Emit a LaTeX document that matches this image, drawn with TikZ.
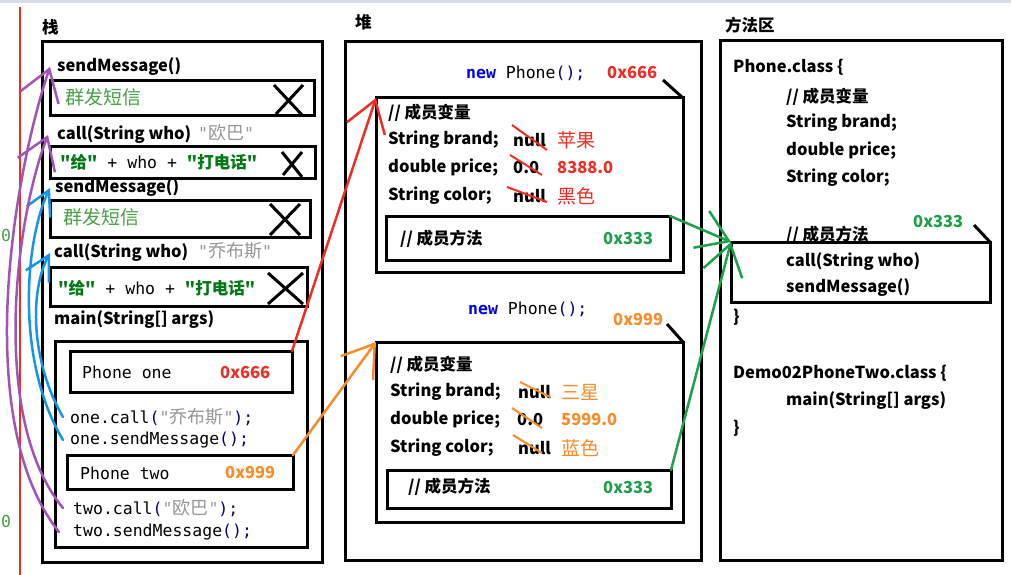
\documentclass[tikz,border=0pt]{standalone}
\usepackage{fontspec}
\usepackage{xcolor}
\usetikzlibrary{arrows.meta}
\newfontfamily\cjk{Noto Sans CJK SC}
\newfontfamily\mono{DejaVu Sans Mono}
\definecolor{myred}{RGB}{238,45,36}
\definecolor{myorange}{RGB}{247,140,40}
\definecolor{mygreen}{RGB}{30,160,75}
\definecolor{dkgreen}{RGB}{0,120,20}
\definecolor{ltgreen}{RGB}{70,160,70}
\definecolor{myblue}{RGB}{20,150,230}
\definecolor{mypurple}{RGB}{160,85,180}
\definecolor{kwblue}{RGB}{0,0,230}
\definecolor{pnavy}{RGB}{0,0,120}
\definecolor{strgray}{RGB}{150,150,150}
\definecolor{topbar}{RGB}{214,221,232}
\newcommand{\punc}[1]{{\color{pnavy}#1}}
\newcommand{\gstr}[1]{{\color{strgray}"{\cjk\fontsize{18}{20}\selectfont #1}"}}
\newcommand{\givecall}{{\color{dkgreen}"给"}{\mono\mdseries\ + who +\ }{\color{dkgreen}"打电话"}}
\tikzset{
  txt/.style={anchor=west, inner sep=0pt, font=\cjk\bfseries\fontsize{16.5}{20}\selectfont},
  cn/.style={anchor=west, inner sep=0pt, font=\cjk\fontsize{19}{20}\selectfont},
  code/.style={anchor=west, inner sep=0pt, font=\mono\fontsize{16.5}{20}\selectfont},
  box/.style={draw, line width=3pt, inner sep=0pt, outer sep=0pt, anchor=north west},
  xline/.style={line width=3pt},
  strike/.style={line width=2pt},
  hand/.style={line width=2.5pt, line cap=round, -{Straight Barb[length=30pt,width=40pt]}},
  smallhand/.style={line width=2.5pt, line cap=round, -{Straight Barb[length=24pt,width=26pt]}}
}
\begin{document}
\begin{tikzpicture}[x=1pt, y=-1pt]
        \fill[white] (0,0) rectangle (1011,575);
        \useasboundingbox (0,0) rectangle (1011,575);
        \fill[topbar] (0,0) rectangle (1011,3);
        \draw[line width=2.5pt, myred] (20,7) -- (20,575);
        \node[code, ltgreen] (zeroa) at (1,235) {0};
        \node[code, ltgreen] (zerob) at (1,521) {0};

        \node[txt] (stacklbl) at (42,27) {栈};
        \node[txt] (heaplbl) at (355,22) {堆};
        \node[txt] (arealbl) at (725,25) {方法区};

        \node[box, minimum width=280pt, minimum height=520pt] (stack) at (42,42) {};
        \node[box, minimum width=356pt, minimum height=518pt] (heap) at (345,42) {};
        \node[box, minimum width=282pt, minimum height=519pt] (area) at (720,41) {};

        \node[txt] (sm1) at (57,67) {sendMessage()};
        \node[box, minimum width=264pt, minimum height=35pt] (f1) at (50,81) {};
        \node[cn, ltgreen] (qf1) at (65,97) {群发短信};
        \draw[xline] (274,85) -- (303,116) (303,85) -- (276,114);
        \node[txt] (call1) at (57,135) {call(String who)};
        \node[code] (ob1) at (198,133) {\gstr{欧巴}};
        \node[box, minimum width=265pt, minimum height=32pt] (f2) at (50,146) {};
        \node[txt] (give1) at (60,162) {\givecall};
        \draw[xline] (282,152) -- (302,177) (302,152) -- (283,175);

        \node[txt] (sm2) at (55,188) {sendMessage()};
        \node[box, minimum width=260pt, minimum height=37pt] (f3) at (50,200) {};
        \node[cn, ltgreen] (qf2) at (63,217) {群发短信};
        \draw[xline] (270,204) -- (300,235) (300,204) -- (270,235);
        \node[txt] (call2) at (54,253) {call(String who)};
        \node[code] (ob2) at (198,251) {\gstr{乔布斯}};
        \node[box, minimum width=257pt, minimum height=39pt] (f4) at (50,267) {};
        \node[txt] (give2) at (58,288) {\givecall};
        \draw[xline] (268,273) -- (303,304) (303,273) -- (268,304);

        \node[txt] (mainlbl) at (54,320) {main(String[] args)};
        \node[box, minimum width=252pt, minimum height=206pt] (mainf) at (55,341) {};
        \node[box, minimum width=222pt, minimum height=41pt] (p1) at (70,351) {};
        \node[code] (pone) at (82,372) {Phone one};
        \node[txt, myred] (addr1) at (220,373) {0x666};
        \node[code] (onecall) at (70,417) {one\punc{.}call\punc{(}\gstr{乔布斯}\punc{);}};
        \node[code] (onesend) at (70,440) {one\punc{.}sendMessage\punc{();}};
        \node[box, minimum width=226pt, minimum height=34pt] (p2) at (67,455) {};
        \node[code] (ptwo) at (80,473) {Phone two};
        \node[txt, myorange] (addr2) at (225,473) {0x999};
        \node[code] (twocall) at (73,508) {two\punc{.}call\punc{(}\gstr{欧巴}\punc{);}};
        \node[code] (twosend) at (73,532) {two\punc{.}sendMessage\punc{();}};

        \node[code] (new1) at (466,73) {{\color{kwblue}\bfseries new} Phone\punc{();}};
        \node[txt, myred] (addr3) at (607,73) {0x666};
        \node[box, minimum width=307pt, minimum height=174pt] (o1) at (376,98) {};
        \draw[line width=3pt] (o1.north east) -- ++(-20,-18);
        \node[txt] (var1) at (388,113) {// 成员变量};
        \node[txt] (brand1) at (388,140) {String brand;};
        \node[txt] (nb1) at (513,140) {null};
        \node[cn, myred] (vb1) at (557,140) {苹果};
        \node[txt] (price1) at (388,168) {double price;};
        \node[txt] (np1) at (513,168) {0.0};
        \node[txt, myred] (vp1) at (557,168) {8388.0};
        \node[txt] (color1) at (388,196) {String color;};
        \node[txt] (nc1) at (513,196) {null};
        \node[cn, myred] (vc1) at (557,196) {黑色};
        \draw[strike, myred] (512,125) -- (547,150);
        \draw[strike, myred] (510,155) -- (542,175);
        \draw[strike, myred] (507,187) -- (547,202);
        \node[box, minimum width=284pt, minimum height=44pt] (m1) at (386,216) {};
        \node[txt] (meth1) at (400,239) {// 成员方法};
        \node[txt, mygreen] (addr4) at (603,239) {0x333};

        \node[code] (new2) at (468,309) {{\color{kwblue}\bfseries new} Phone\punc{();}};
        \node[txt, myorange] (addr5) at (613,320) {0x999};
        \node[box, minimum width=307pt, minimum height=180pt] (o2) at (376,342) {};
        \draw[line width=3pt] (o2.north east) -- ++(-16,-18);
        \node[txt] (var2) at (390,365) {// 成员变量};
        \node[txt] (brand2) at (390,392) {String brand;};
        \node[txt] (nb2) at (518,392) {null};
        \node[cn, myorange] (vb2) at (561,392) {三星};
        \node[txt] (price2) at (390,420) {double price;};
        \node[txt] (np2) at (517,420) {0.0};
        \node[txt, myorange] (vp2) at (561,420) {5999.0};
        \node[txt] (color2) at (390,448) {String color;};
        \node[txt] (nc2) at (518,448) {null};
        \node[cn, myorange] (vc2) at (561,448) {蓝色};
        \draw[strike, myorange] (520,382) -- (550,397);
        \draw[strike, myorange] (512,408) -- (542,428);
        \draw[strike, myorange] (513,435) -- (542,453);
        \node[box, minimum width=284pt, minimum height=38pt] (m2) at (387,470) {};
        \node[txt] (meth2) at (408,487) {// 成员方法};
        \node[txt, mygreen] (addr6) at (603,488) {0x333};

        \node[txt] (cls1) at (733,67) {Phone.class \{};
        \node[txt] (var3) at (786,97) {// 成员变量};
        \node[txt] (brand3) at (786,123) {String brand;};
        \node[txt] (price3) at (786,151) {double price;};
        \node[txt] (color3) at (786,178) {String color;};
        \node[txt] (meth3) at (786,235) {// 成员方法};
        \node[txt, mygreen] (addr7) at (913,222) {0x333};
        \node[box, minimum width=259pt, minimum height=60pt] (mb) at (731,242) {};
        \draw[line width=3pt] (mb.north east) -- ++(-16,-17);
        \node[txt] (callm) at (786,262) {call(String who)};
        \node[txt] (sendm) at (786,288) {sendMessage()};
        \node[txt] (end1) at (733,317) {\}};
        \node[txt] (cls2) at (733,373) {Demo02PhoneTwo.class \{};
        \node[txt] (mainm) at (786,401) {main(String[] args)};
        \node[txt] (end2) at (733,428) {\}};

        \draw[hand, myred] (p1.north east) -- (o1.north west);
        \draw[hand, myorange] (p2.north east) -- (o2.north west);
        \draw[hand, mygreen] (m1.north east) -- (mb.north west);
        \draw[hand, mygreen] (m2.north east) -- (mb.north west);

        \draw[smallhand, myblue] ([xshift=-7pt]onesend.west) .. controls (15,360) and (25,240) .. ([xshift=-5pt]sm2.west);
        \draw[smallhand, myblue] ([xshift=-7pt]onecall.west) .. controls (30,360) and (30,290) .. ([xshift=-4pt]call2.west);
        \draw[hand, mypurple] ([xshift=-14pt]twosend.west) .. controls (-30,420) and (15,170) .. ([xshift=-7pt]sm1.west);
        \draw[hand, mypurple] ([xshift=-10pt]twocall.west) .. controls (-10,420) and (15,220) .. ([xshift=-9pt]call1.west);
    \end{tikzpicture}
\end{document}
